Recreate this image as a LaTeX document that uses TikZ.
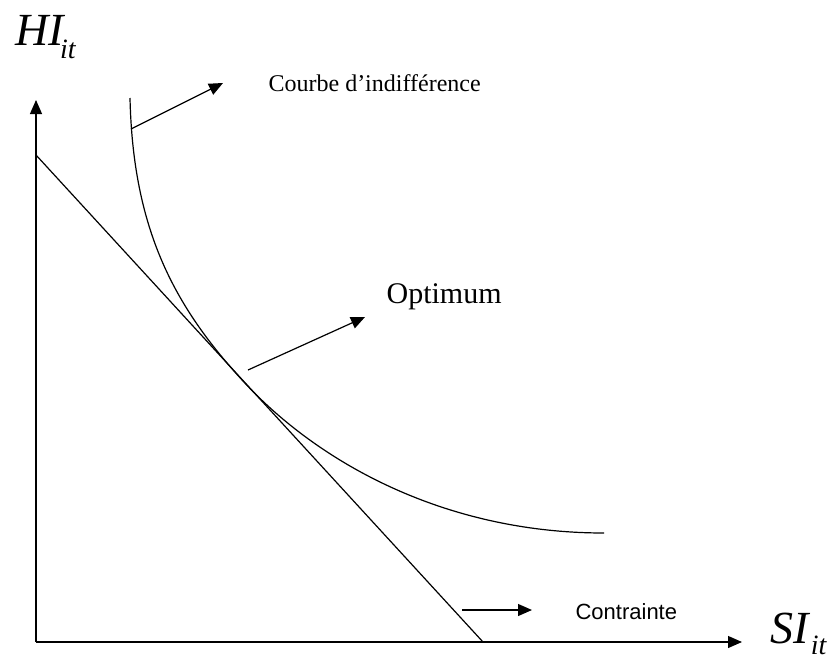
\documentclass[tikz,border=0pt]{standalone}
\usepackage{fontspec}
\setmainfont{Liberation Serif}
\newfontfamily\arialf{Liberation Sans}
\usetikzlibrary{arrows.meta}
\begin{document}
\begin{tikzpicture}[x=1pt,y=-1pt,line width=1.2pt,
  axis/.style={-{Triangle[length=14pt,width=12pt]}},
  pointer/.style={-{Triangle[length=14pt,width=12pt]}},
  lbl/.style={inner sep=0pt,anchor=base west}]
\useasboundingbox (0,0) rectangle (828,654);
% axes
\coordinate (O) at (36,642);
\coordinate (Ytip) at (36,100);
\coordinate (Xtip) at (742,642);
\draw[axis] (O) -- (Ytip);
\draw[axis] (O) -- (Xtip);
% budget constraint
\coordinate (B1) at (36,155);
\coordinate (B2) at (483,642);
\draw (B1) -- (B2);
% indifference curve
\coordinate (I0) at (130,98);
\coordinate (T) at (243,381);
\coordinate (I1) at (604,533);
\draw (I0) .. controls (133,228) and (173,305) .. (T)
           .. controls (317.4,462) and (444,533) .. (I1);
% axis labels
\node[lbl] (hi) at (15,45) {\fontsize{46}{46}\selectfont\itshape HI\kern-4pt\raisebox{-13pt}{\fontsize{28}{28}\selectfont it}};
\node[lbl] (si) at (770,643) {\fontsize{46}{46}\selectfont\itshape SI\kern2pt\raisebox{-11pt}{\fontsize{28}{28}\selectfont it}};
% pointers
\coordinate (c1) at (131,129);
\coordinate (c2) at (223,83);
\draw[pointer] (c1) -- (c2);
\node[lbl] (courbe) at (268,91) {\fontsize{24}{24}\selectfont Courbe d’indifférence};
\coordinate (o1) at (248,370);
\coordinate (o2) at (365,317);
\draw[pointer] (o1) -- (o2);
\node[lbl] (opt) at (386,303) {\fontsize{30}{30}\selectfont Optimum};
\coordinate (k1) at (462,610);
\coordinate (k2) at (532,610);
\draw[pointer] (k1) -- (k2);
\node[lbl] (contr) at (575,619) {\fontsize{22}{22}\selectfont\arialf Contrainte};
\end{tikzpicture}
\end{document}
